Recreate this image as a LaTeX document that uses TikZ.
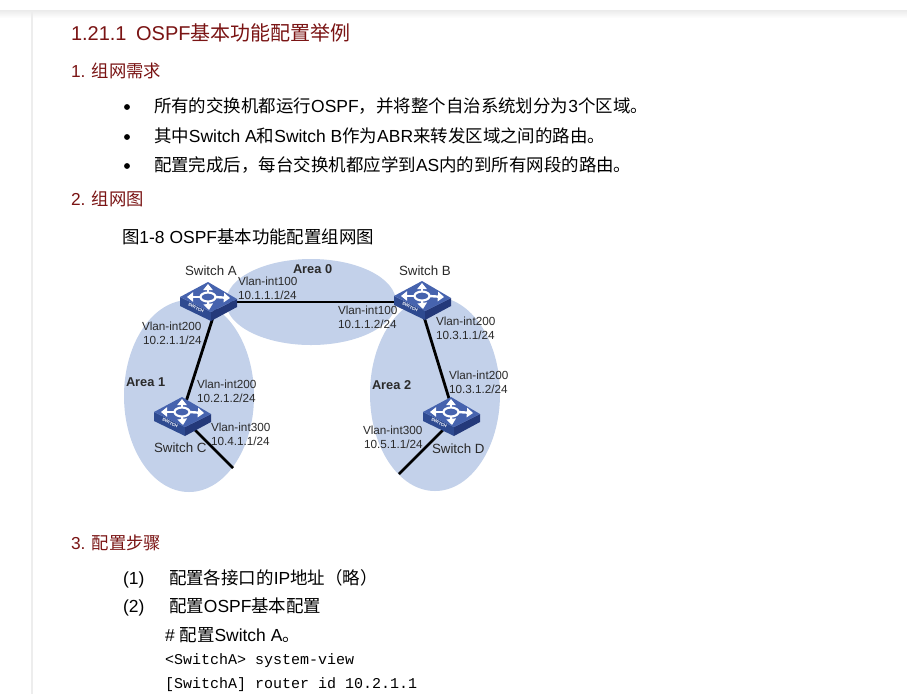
\documentclass[tikz,border=0pt]{standalone}
\usepackage{fontspec}
\setmainfont{Liberation Sans}
\setmonofont{Liberation Mono}
\newfontfamily\cjkf{Noto Sans CJK SC}
\newcommand{\Z}[1]{{\cjkf #1}}
\usetikzlibrary{arrows.meta}
\definecolor{areafill}{HTML}{C3D1EA}
\definecolor{headred}{HTML}{7A1414}
\definecolor{swtop}{HTML}{4663AE}
\definecolor{swleft}{HTML}{2E4A90}
\definecolor{swright}{HTML}{24397A}
\definecolor{lbl}{HTML}{2A2A2A}
\tikzset{
  x=0.75pt,y=-0.75pt,
  txt/.style={anchor=base west,inner sep=0pt,outer sep=0pt},
  h1/.style={txt,font=\fontsize{15}{15}\selectfont,text=headred},
  h2/.style={txt,font=\fontsize{13}{13}\selectfont,text=headred},
  body/.style={txt,font=\fontsize{13.1}{13.1}\selectfont,text=black},
  mono/.style={txt,font=\ttfamily\fontsize{11.25}{11.25}\selectfont,text=black},
  lab/.style={txt,font=\fontsize{8.8}{8.8}\selectfont,text=lbl},
  swlab/.style={txt,font=\fontsize{10}{10}\selectfont,text=lbl},
  arealab/.style={txt,font=\bfseries\fontsize{9.6}{9.6}\selectfont,text=lbl},
  area/.style={fill=areafill,draw=none},
  link/.style={line width=2.1pt,draw=black},
  bulletdot/.style={circle,fill=black,draw=none,inner sep=0pt,minimum size=4.4pt},
  swarrow/.style={white,line width=1.8pt,-{Triangle[length=4.6pt,width=7pt]}},
  switchicon/.pic={
    \fill[swleft] (-28,-1) -- (3,14) -- (3,23) -- (-28,8) -- cycle;
    \fill[swright] (29,1) -- (3,14) -- (3,23) -- (29,9) -- cycle;
    \fill[swtop] (0,-16) -- (29,1) -- (3,14) -- (-28,-1) -- cycle;
    \draw[white,line width=1.6pt] (0,-1) ellipse (7.5 and 4.5);
    \draw[swarrow] (0,-5) -- (0,-14);
    \draw[swarrow] (0,4) -- (1,12);
    \draw[swarrow] (-7,-1) -- (-21,-1);
    \draw[swarrow] (7,-1) -- (22,0);
    \node[white,font=\bfseries\fontsize{3.2}{3.2}\selectfont,rotate=-27,inner sep=0pt] at (-12,10) {SWITCH};
  }
}
\begin{document}
\begin{tikzpicture}
\useasboundingbox (0,0) rectangle (907,694);
\fill[white] (0,0) rectangle (907,694);
\shade[top color=black!8,bottom color=white] (0,10) rectangle (907,18);
\draw[black!7,line width=0.8pt] (32,12) -- (32,694);

% page text
\node[h1] (title) at (71,40) {1.21.1\hspace{0.2em} OSPF\Z{基本功能配置举例}};
\node[h2] (s1) at (71,77) {1. \Z{组网需求}};
\node[bulletdot] (b1) at (127,107) {};
\node[body] (t1) at (154,112) {\Z{所有的交换机都运行}OSPF\Z{，并将整个自治系统划分为}3\Z{个区域。}};
\node[bulletdot] (b2) at (127,137) {};
\node[body] (t2) at (154,142) {\Z{其中}Switch A\Z{和}Switch B\Z{作为}ABR\Z{来转发区域之间的路由。}};
\node[bulletdot] (b3) at (127,166) {};
\node[body] (t3) at (154,171) {\Z{配置完成后，每台交换机都应学到}AS\Z{内的到所有网段的路由。}};
\node[h2] (s2) at (71,205) {2. \Z{组网图}};
\node[body] (fig) at (122,243) {\Z{图}1-8 OSPF\Z{基本功能配置组网图}};
\node[h2] (s3) at (71,549) {3. \Z{配置步骤}};
\node[body] (n1) at (123,584) {(1)};
\node[body] (c1) at (169,584) {\Z{配置各接口的}IP\Z{地址（略）}};
\node[body] (n2) at (123,612) {(2)};
\node[body] (c2) at (169,612) {\Z{配置}OSPF\Z{基本配置}};
\node[body] (c3) at (165,641) {\# \Z{配置}Switch A\Z{。}};
\node[mono] (m1) at (165,664) {<SwitchA> system-view};
\node[mono] (m2) at (165,688) {[SwitchA] router id 10.2.1.1};

% areas
\fill[area] (189,396) ellipse (65 and 96);
\fill[area] (435,394) ellipse (65 and 97);
\fill[area] (311,302) ellipse (85 and 43);

% switch positions
\coordinate (swA) at (208,298);
\coordinate (swB) at (422,297);
\coordinate (swC) at (182,413);
\coordinate (swD) at (451,413);
\coordinate (ac1) at (216,308);
\coordinate (ac2) at (184,408);
\coordinate (bd1) at (421,307);
\coordinate (bd2) at (451,405);
\coordinate (endC) at (233,468);
\coordinate (endD) at (399,474);
\coordinate (cOut) at (190,425);
\coordinate (dOut) at (448,425);
\coordinate (ab1) at (230,302);
\coordinate (ab2) at (400,302);

% links
\draw[link] (ab1) -- (ab2);
\draw[link] (ac1) -- (ac2);
\draw[link] (bd1) -- (bd2);
\draw[link] (cOut) -- (endC);
\draw[link] (dOut) -- (endD);

% switches
\pic at (swA) {switchicon};
\pic at (swB) {switchicon};
\pic at (swC) {switchicon};
\pic at (swD) {switchicon};

% labels
\node[swlab] (la) at (185,275) {Switch A};
\node[swlab] (lb) at (399,275) {Switch B};
\node[swlab] (lc) at (154,452) {Switch C};
\node[swlab] (ld) at (432,453) {Switch D};
\node[arealab] (a0) at (293,273) {Area 0};
\node[arealab] (a1) at (126,386) {Area 1};
\node[arealab] (a2) at (372,389) {Area 2};
\node[lab] (i1) at (238,285) {Vlan-int100};
\node[lab] (p1) at (238,299) {10.1.1.1/24};
\node[lab] (i2) at (338,314) {Vlan-int100};
\node[lab] (p2) at (338,328) {10.1.1.2/24};
\node[lab] (i3) at (142,330) {Vlan-int200};
\node[lab] (p3) at (143,344) {10.2.1.1/24};
\node[lab] (i4) at (197,388) {Vlan-int200};
\node[lab] (p4) at (197,402) {10.2.1.2/24};
\node[lab] (i5) at (211,431) {Vlan-int300};
\node[lab] (p5) at (211,445) {10.4.1.1/24};
\node[lab] (i6) at (436,325) {Vlan-int200};
\node[lab] (p6) at (436,339) {10.3.1.1/24};
\node[lab] (i7) at (449,379) {Vlan-int200};
\node[lab] (p7) at (449,393) {10.3.1.2/24};
\node[lab] (i8) at (363,434) {Vlan-int300};
\node[lab] (p8) at (364,448) {10.5.1.1/24};
\end{tikzpicture}
\end{document}
